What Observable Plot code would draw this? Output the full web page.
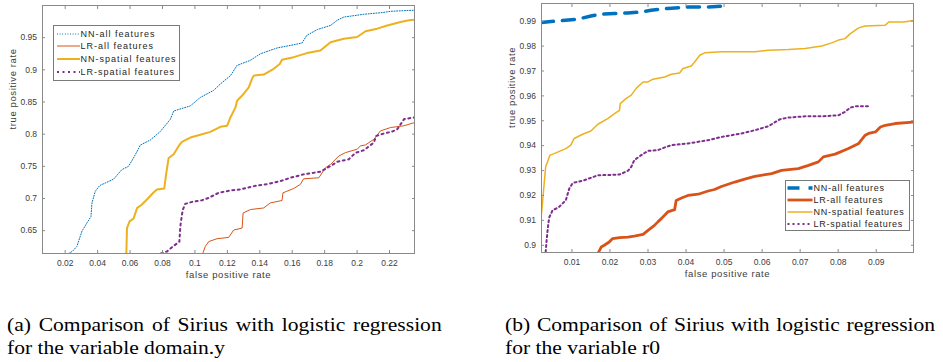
<!DOCTYPE html>
<html><head><meta charset="utf-8">
<script src="https://cdn.jsdelivr.net/npm/d3@7"></script>
<script src="https://cdn.jsdelivr.net/npm/@observablehq/plot@0.6"></script>
<style>
body{margin:0;background:#fff;}
#fig{position:relative;width:943px;height:362px;overflow:hidden;background:#fff;}
.panel{position:absolute;top:0;}
.legend{position:absolute;background:#fff;border:1px solid #7a7a7a;box-sizing:border-box;font-family:'Liberation Sans',Arial,sans-serif;font-size:9px;color:#262626;}
.row{position:absolute;left:0;height:12px;white-space:nowrap;}
.row svg{position:absolute;top:0;overflow:visible;}
.row span{position:absolute;top:0;line-height:12px;}
.caption{position:absolute;font-family:'Liberation Serif','Times New Roman',serif;font-size:19px;line-height:23px;text-align:justify;transform-origin:0 0;transform:scaleX(1.135);color:#000;}
</style>
</head><body>
<div id="fig"></div>
<script>
// ---------- data ----------
const seriesNames = ["NN-all features", "LR-all features", "NN-spatial features", "LR-spatial features"];

// Panel (a): variable domain.y  — [false positive rate, true positive rate]
const aNNall = [[0.022,0.6145],[0.0245,0.618],[0.0272,0.6255],[0.0303,0.649],[0.0334,0.662],[0.0359,0.672],[0.0365,0.693],[0.0385,0.711],[0.0412,0.720],[0.0498,0.730],[0.055,0.745],[0.059,0.750],[0.0612,0.759],[0.0643,0.773],[0.0663,0.783],[0.0725,0.791],[0.0786,0.804],[0.0848,0.823],[0.0869,0.836],[0.0972,0.844],[0.1033,0.857],[0.1115,0.868],[0.1157,0.878],[0.1219,0.891],[0.126,0.907],[0.134,0.9145],[0.1404,0.925],[0.1507,0.934],[0.1589,0.938],[0.166,0.9416],[0.169,0.9536],[0.1754,0.9625],[0.1836,0.969],[0.1877,0.977],[0.1918,0.982],[0.2042,0.9864],[0.2155,0.989],[0.2206,0.991],[0.2354,0.9927]];
const aLRall = [[0.1048,0.6145],[0.1064,0.6255],[0.1085,0.633],[0.1136,0.6375],[0.1208,0.6395],[0.1239,0.651],[0.1291,0.654],[0.1297,0.6775],[0.1342,0.6828],[0.1424,0.6853],[0.1465,0.6931],[0.1537,0.6969],[0.1543,0.7088],[0.1609,0.7156],[0.165,0.7219],[0.167,0.7306],[0.1764,0.7322],[0.1805,0.7478],[0.1836,0.753],[0.1887,0.766],[0.1928,0.7713],[0.2,0.7766],[0.2021,0.7817],[0.2052,0.7833],[0.2103,0.792],[0.2144,0.805],[0.2206,0.8103],[0.2288,0.813],[0.2354,0.818]];
const aNNsp = [[0.0577,0.6145],[0.0581,0.654],[0.0597,0.6645],[0.0622,0.669],[0.0643,0.685],[0.0673,0.6906],[0.0704,0.6984],[0.0743,0.709],[0.0766,0.714],[0.0811,0.7156],[0.0822,0.7375],[0.0838,0.763],[0.0869,0.7688],[0.09,0.7817],[0.092,0.788],[0.0972,0.7947],[0.1033,0.799],[0.1095,0.8036],[0.1157,0.8114],[0.1198,0.813],[0.1219,0.826],[0.125,0.8416],[0.126,0.852],[0.130,0.8625],[0.1332,0.8728],[0.1352,0.886],[0.1363,0.891],[0.1424,0.8927],[0.1486,0.9016],[0.1523,0.909],[0.1537,0.9156],[0.1609,0.9197],[0.1691,0.926],[0.1774,0.930],[0.1836,0.943],[0.1918,0.9484],[0.2,0.951],[0.2052,0.960],[0.2124,0.964],[0.2186,0.969],[0.2268,0.9744],[0.232,0.977],[0.2354,0.978]];
const aLRsp = [[0.079,0.6145],[0.0828,0.6177],[0.0859,0.6244],[0.0904,0.633],[0.091,0.6567],[0.092,0.675],[0.0926,0.683],[0.094,0.6916],[0.0982,0.6947],[0.1044,0.6973],[0.1085,0.701],[0.1146,0.7088],[0.1219,0.7125],[0.128,0.714],[0.1362,0.7192],[0.1455,0.7228],[0.1527,0.727],[0.1589,0.7322],[0.167,0.7375],[0.1774,0.7416],[0.1836,0.7505],[0.1877,0.757],[0.1949,0.761],[0.199,0.771],[0.2042,0.775],[0.2103,0.7869],[0.2118,0.7973],[0.2165,0.801],[0.2217,0.804],[0.2248,0.8078],[0.229,0.8234],[0.2353,0.826]];
const aXTicks = [0.02,0.04,0.06,0.08,0.1,0.12,0.14,0.16,0.18,0.2,0.22];
const aXTickLabels = ["0.02","0.04","0.06","0.08","0.1","0.12","0.14","0.16","0.18","0.2","0.22"];
const aYTicks = [0.65,0.7,0.75,0.8,0.85,0.9,0.95];
const aYTickLabels = ["0.65","0.7","0.75","0.8","0.85","0.9","0.95"];
const aXDomain = [0.006, 0.2354];
const aYDomain = [0.6145, 1.0];

// Panel (b): variable r0
const bNNall = [[0.002,0.9895],[0.0115,0.9908],[0.015,0.9921],[0.0177,0.9928],[0.0212,0.9931],[0.0247,0.9933],[0.0282,0.9937],[0.0308,0.9944],[0.0352,0.9951],[0.0405,0.9957],[0.0458,0.9957],[0.0511,0.9962]];
const bLRall = [[0.0169,0.8969],[0.0177,0.8993],[0.0185,0.90],[0.0198,0.9013],[0.0207,0.9027],[0.0225,0.9031],[0.0247,0.9033],[0.0264,0.9037],[0.0287,0.9044],[0.03,0.906],[0.0317,0.908],[0.0326,0.9094],[0.0335,0.9107],[0.0352,0.9134],[0.037,0.9143],[0.0374,0.918],[0.0388,0.919],[0.0405,0.920],[0.0432,0.9205],[0.0458,0.9218],[0.0475,0.9224],[0.0493,0.9236],[0.0528,0.9254],[0.0559,0.9268],[0.0581,0.9277],[0.0625,0.9288],[0.0651,0.9301],[0.0695,0.9308],[0.0722,0.9321],[0.0748,0.9335],[0.0761,0.9355],[0.0792,0.9366],[0.0827,0.9389],[0.0854,0.9409],[0.0871,0.9442],[0.088,0.9449],[0.0898,0.9455],[0.0911,0.9475],[0.0924,0.9482],[0.095,0.9489],[0.1,0.9495]];
const bNNsp = [[0.002,0.9127],[0.0024,0.9194],[0.0027,0.9248],[0.0031,0.9315],[0.0036,0.9335],[0.0042,0.9362],[0.0053,0.9368],[0.0084,0.9388],[0.0097,0.9402],[0.0106,0.9429],[0.0128,0.9446],[0.015,0.9459],[0.0168,0.9486],[0.0194,0.9509],[0.0212,0.9529],[0.0225,0.9542],[0.0227,0.9569],[0.0242,0.9589],[0.0256,0.9603],[0.0269,0.963],[0.0287,0.9656],[0.03,0.9656],[0.0313,0.9667],[0.0344,0.9676],[0.0361,0.9687],[0.0383,0.9692],[0.0392,0.971],[0.0414,0.972],[0.0423,0.9737],[0.0436,0.9763],[0.0449,0.9773],[0.0493,0.9777],[0.0581,0.9777],[0.0616,0.9783],[0.0669,0.9786],[0.0713,0.979],[0.0757,0.98],[0.0783,0.9813],[0.0801,0.9824],[0.0818,0.983],[0.0832,0.985],[0.0854,0.9873],[0.0871,0.9881],[0.0924,0.9884],[0.0933,0.9897],[0.0973,0.9897],[0.1,0.9904]];
const bLRsp = [[0.0031,0.8973],[0.0033,0.9013],[0.0036,0.906],[0.004,0.9111],[0.0049,0.914],[0.0066,0.9154],[0.0084,0.9181],[0.0093,0.9228],[0.0102,0.925],[0.0132,0.9261],[0.0168,0.9281],[0.0225,0.9284],[0.0247,0.9299],[0.0256,0.9315],[0.0264,0.9342],[0.0282,0.9362],[0.03,0.9379],[0.0326,0.9382],[0.0344,0.9393],[0.0361,0.9402],[0.0405,0.9409],[0.0458,0.9422],[0.0493,0.9435],[0.0546,0.9449],[0.0581,0.9462],[0.0616,0.9478],[0.0647,0.9506],[0.0669,0.9513],[0.0713,0.9518],[0.0757,0.9518],[0.0801,0.9522],[0.0818,0.9536],[0.0832,0.9553],[0.0845,0.9558],[0.0884,0.9558]];
const bXTicks = [0.01,0.02,0.03,0.04,0.05,0.06,0.07,0.08,0.09];
const bXTickLabels = ["0.01","0.02","0.03","0.04","0.05","0.06","0.07","0.08","0.09"];
const bYTicks = [0.9,0.91,0.92,0.93,0.94,0.95,0.96,0.97,0.98,0.99];
const bYTickLabels = ["0.9","0.91","0.92","0.93","0.94","0.95","0.96","0.97","0.98","0.99"];
const bXDomain = [0.002, 0.0998];
const bYDomain = [0.8971, 0.9971];

const xLabel = "false positive rate";
const yLabel = "true positive rate";
const captionA = "(a) Comparison of Sirius with logistic regression for the variable domain.y";
const captionB = "(b) Comparison of Sirius with logistic regression for the variable r0";

// ---------- styles ----------
const colors = ["#0072BD", "#D95319", "#EDB120", "#7E2F8E"];
const stylesA = [
  {stroke: colors[0], strokeWidth: 1, strokeDasharray: "1,1.6"},
  {stroke: colors[1], strokeWidth: 1, strokeDasharray: null},
  {stroke: colors[2], strokeWidth: 2, strokeDasharray: null},
  {stroke: colors[3], strokeWidth: 2, strokeDasharray: "2,3.5"}
];
const stylesB = [
  {stroke: colors[0], strokeWidth: 3.5, strokeDasharray: "12,9"},
  {stroke: colors[1], strokeWidth: 2.8, strokeDasharray: null},
  {stroke: colors[2], strokeWidth: 1.5, strokeDasharray: null},
  {stroke: colors[3], strokeWidth: 2, strokeDasharray: "2,3"}
];

const axisColor = "#8a8a8a";
const textColor = "#3c3c3c";

function makePanel({series, styles, xDomain, yDomain, xTicks, xTickLabels, yTicks, yTickLabels, marginLeft, marginRight, marginTop, marginBottom}) {
  const lineMarks = series.map((s, k) => Plot.line(s, {
    x: d => d[0], y: d => d[1], clip: true,
    stroke: styles[k].stroke, strokeWidth: styles[k].strokeWidth,
    strokeDasharray: styles[k].strokeDasharray ?? undefined,
    strokeLinejoin: "round"
  }));
  const fx = d => xTickLabels[xTicks.indexOf(d)];
  const fy = d => yTickLabels[yTicks.indexOf(d)];
  return Plot.plot({
    width: 420, height: 281,
    marginLeft, marginRight, marginTop, marginBottom,
    x: {domain: xDomain},
    y: {domain: yDomain},
    style: {fontFamily: "'Liberation Sans', Arial, sans-serif", fontSize: "8.5px", color: textColor, background: "transparent", overflow: "visible"},
    marks: [
      ...lineMarks,
      Plot.frame({stroke: axisColor}),
      Plot.axisX(xTicks, {anchor: "bottom", tickSize: -3, tickPadding: 9, tickFormat: fx, label: null, stroke: axisColor}),
      Plot.axisX(xTicks, {anchor: "top", tickSize: -3, tickFormat: () => "", label: null, stroke: axisColor}),
      Plot.axisY(yTicks, {anchor: "left", tickSize: -3, tickPadding: 8.5, tickFormat: fy, label: null, stroke: axisColor}),
      Plot.axisY(yTicks, {anchor: "right", tickSize: -3, tickFormat: () => "", label: null, stroke: axisColor}),
      Plot.text([xLabel], {frameAnchor: "bottom", dy: 21, lineAnchor: "middle", fontSize: 9.5, fill: textColor}),
      Plot.text([yLabel], {frameAnchor: "left", dx: -30, rotate: -90, lineAnchor: "middle", fontSize: 9.5, fill: textColor})
    ]
  });
}

const fig = document.getElementById("fig");

function place(node, left, top) {
  node.classList.add("panel");
  node.style.left = left + "px";
  node.style.top = top + "px";
  fig.appendChild(node);
  node.querySelectorAll('g[aria-label="text"] text').forEach(t => t.style.letterSpacing = "0.6px");
}

const pa = makePanel({series: [aNNall, aLRall, aNNsp, aLRsp], styles: stylesA, xDomain: aXDomain, yDomain: aYDomain,
  xTicks: aXTicks, xTickLabels: aXTickLabels, yTicks: aYTicks, yTickLabels: aYTickLabels,
  marginLeft: 42, marginRight: 6, marginTop: 5, marginBottom: 28});
place(pa, 0, 0);

const pb = makePanel({series: [bNNall, bLRall, bNNsp, bLRsp], styles: stylesB, xDomain: bXDomain, yDomain: bYDomain,
  xTicks: bXTicks, xTickLabels: bXTickLabels, yTicks: bYTicks, yTickLabels: bYTickLabels,
  marginLeft: 43, marginRight: 5, marginTop: 3, marginBottom: 29});
place(pb, 498, 0);

// ---------- legends ----------
function legend({left, top, width, height, rows, lineX0, lineX1, textX, styles, letterSpacing}) {
  const box = document.createElement("div");
  box.className = "legend";
  Object.assign(box.style, {left: left + "px", top: top + "px", width: width + "px", height: height + "px"});
  seriesNames.forEach((name, k) => {
    const row = document.createElement("div");
    row.className = "row";
    row.style.top = (rows[k] - 6) + "px";
    row.style.width = width + "px";
    const s = styles[k];
    row.innerHTML = `<svg width="${width}" height="12"><line x1="${lineX0}" x2="${lineX1}" y1="6" y2="6" stroke="${s.stroke}" stroke-width="${s.strokeWidth}" ${s.strokeDasharray ? `stroke-dasharray="${s.strokeDasharray}"` : ""}/></svg><span style="left:${textX}px;letter-spacing:${letterSpacing}px">${name}</span>`;
    box.appendChild(row);
  });
  fig.appendChild(box);
}
legend({left: 53, top: 25, width: 127, height: 56, rows: [8, 20, 33, 45.5], lineX0: 3, lineX1: 26, textX: 26.5, styles: stylesA, letterSpacing: 1.0});
legend({left: 785, top: 180, width: 125, height: 51, rows: [7, 19, 31, 43], lineX0: 1.5, lineX1: 26.5, textX: 27.5, styles: stylesB, letterSpacing: 0.74});

// ---------- captions ----------
function caption(text, left, top, width) {
  const d = document.createElement("div");
  d.className = "caption";
  Object.assign(d.style, {left: left + "px", top: top + "px", width: width + "px"});
  d.textContent = text;
  fig.appendChild(d);
}
caption(captionA, 7, 313, 383);
caption(captionB, 505, 313, 379);
</script>
</body></html>
